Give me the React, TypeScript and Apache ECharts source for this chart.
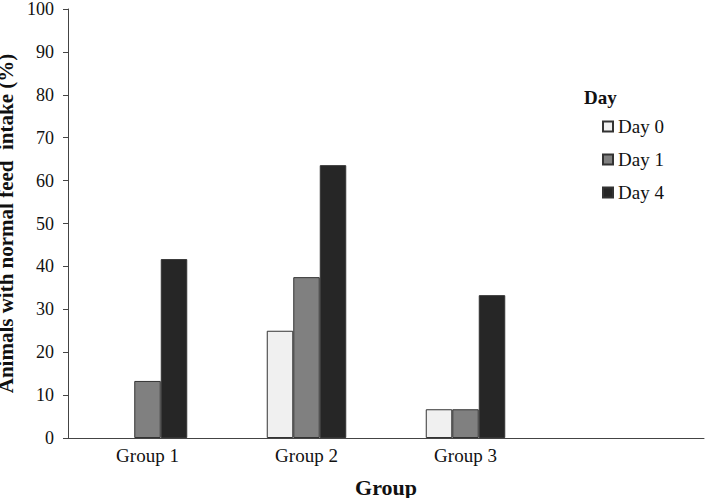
import React, { useEffect, useRef } from "react";
import * as echarts from "echarts";

const categories = ["Group 1", "Group 2", "Group 3", ""];
const seriesNames = ["Day 0", "Day 1", "Day 4"];
const day0 = [0, 25, 6.7, null];
const day1 = [13.3, 37.5, 6.7, null];
const day4 = [41.7, 63.6, 33.3, null];
const colors = ["#f0f0f0", "#808080", "#262626"];

const FONT = "'Liberation Serif', 'Times New Roman', serif";

export default function App() {
  const ref = useRef<HTMLDivElement>(null);
  useEffect(() => {
    if (!ref.current) return;
    const chart = echarts.init(ref.current, undefined, { renderer: "svg" });
    const values = [day0, day1, day4];
    chart.setOption({
      animation: false,
      textStyle: { fontFamily: FONT },
      grid: { left: 68, right: 5, top: 9, bottom: 60, containLabel: false, outerBoundsMode: "none" },
      legend: {
        orient: "vertical",
        left: 597,
        top: 112,
        itemWidth: 10,
        itemHeight: 10,
        itemGap: 14,
        icon: "rect",
        data: seriesNames,
        textStyle: { fontFamily: FONT, fontSize: 19, color: "#111" },
      },
      graphic: [
        {
          type: "text",
          left: 584,
          top: 88,
          style: {
            text: "Day",
            font: `bold 19px ${FONT}`,
            fill: "#111",
          },
        },
      ],
      xAxis: {
        type: "category",
        data: categories,
        name: "Group",
        nameLocation: "middle",
        nameGap: 38,
        nameTextStyle: { fontFamily: FONT, fontSize: 22, fontWeight: "bold", color: "#111" },
        axisLine: { lineStyle: { color: "#444", width: 1 } },
        axisTick: { show: false },
        axisLabel: { fontFamily: FONT, fontSize: 19, color: "#111", margin: 8 },
      },
      yAxis: {
        type: "value",
        min: 0,
        max: 100,
        interval: 10,
        name: "Animals with normal feed  intake (%)",
        nameLocation: "middle",
        nameGap: 41,
        nameTextStyle: { fontFamily: FONT, fontSize: 21, fontWeight: "bold", color: "#111" },
        axisLine: { show: true, lineStyle: { color: "#444", width: 1 } },
        axisTick: { show: true, length: 5, lineStyle: { color: "#444" } },
        splitLine: { show: false },
        axisLabel: { fontFamily: FONT, fontSize: 18, color: "#111", margin: 14 },
      },
      series: seriesNames.map((name, i) => ({
        name,
        type: "bar",
        data: values[i].map((v) =>
          v === 0 ? { value: 0, itemStyle: { borderWidth: 0, opacity: 0 } } : v
        ),
        barWidth: 26.5,
        barGap: "0%",
        itemStyle: { color: colors[i], borderColor: "#333", borderWidth: 1 },
      })),
    });
    return () => chart.dispose();
  }, []);
  return <div ref={ref} style={{ width: 709, height: 498, position: "absolute", left: 0, top: 0 }} />;
}
